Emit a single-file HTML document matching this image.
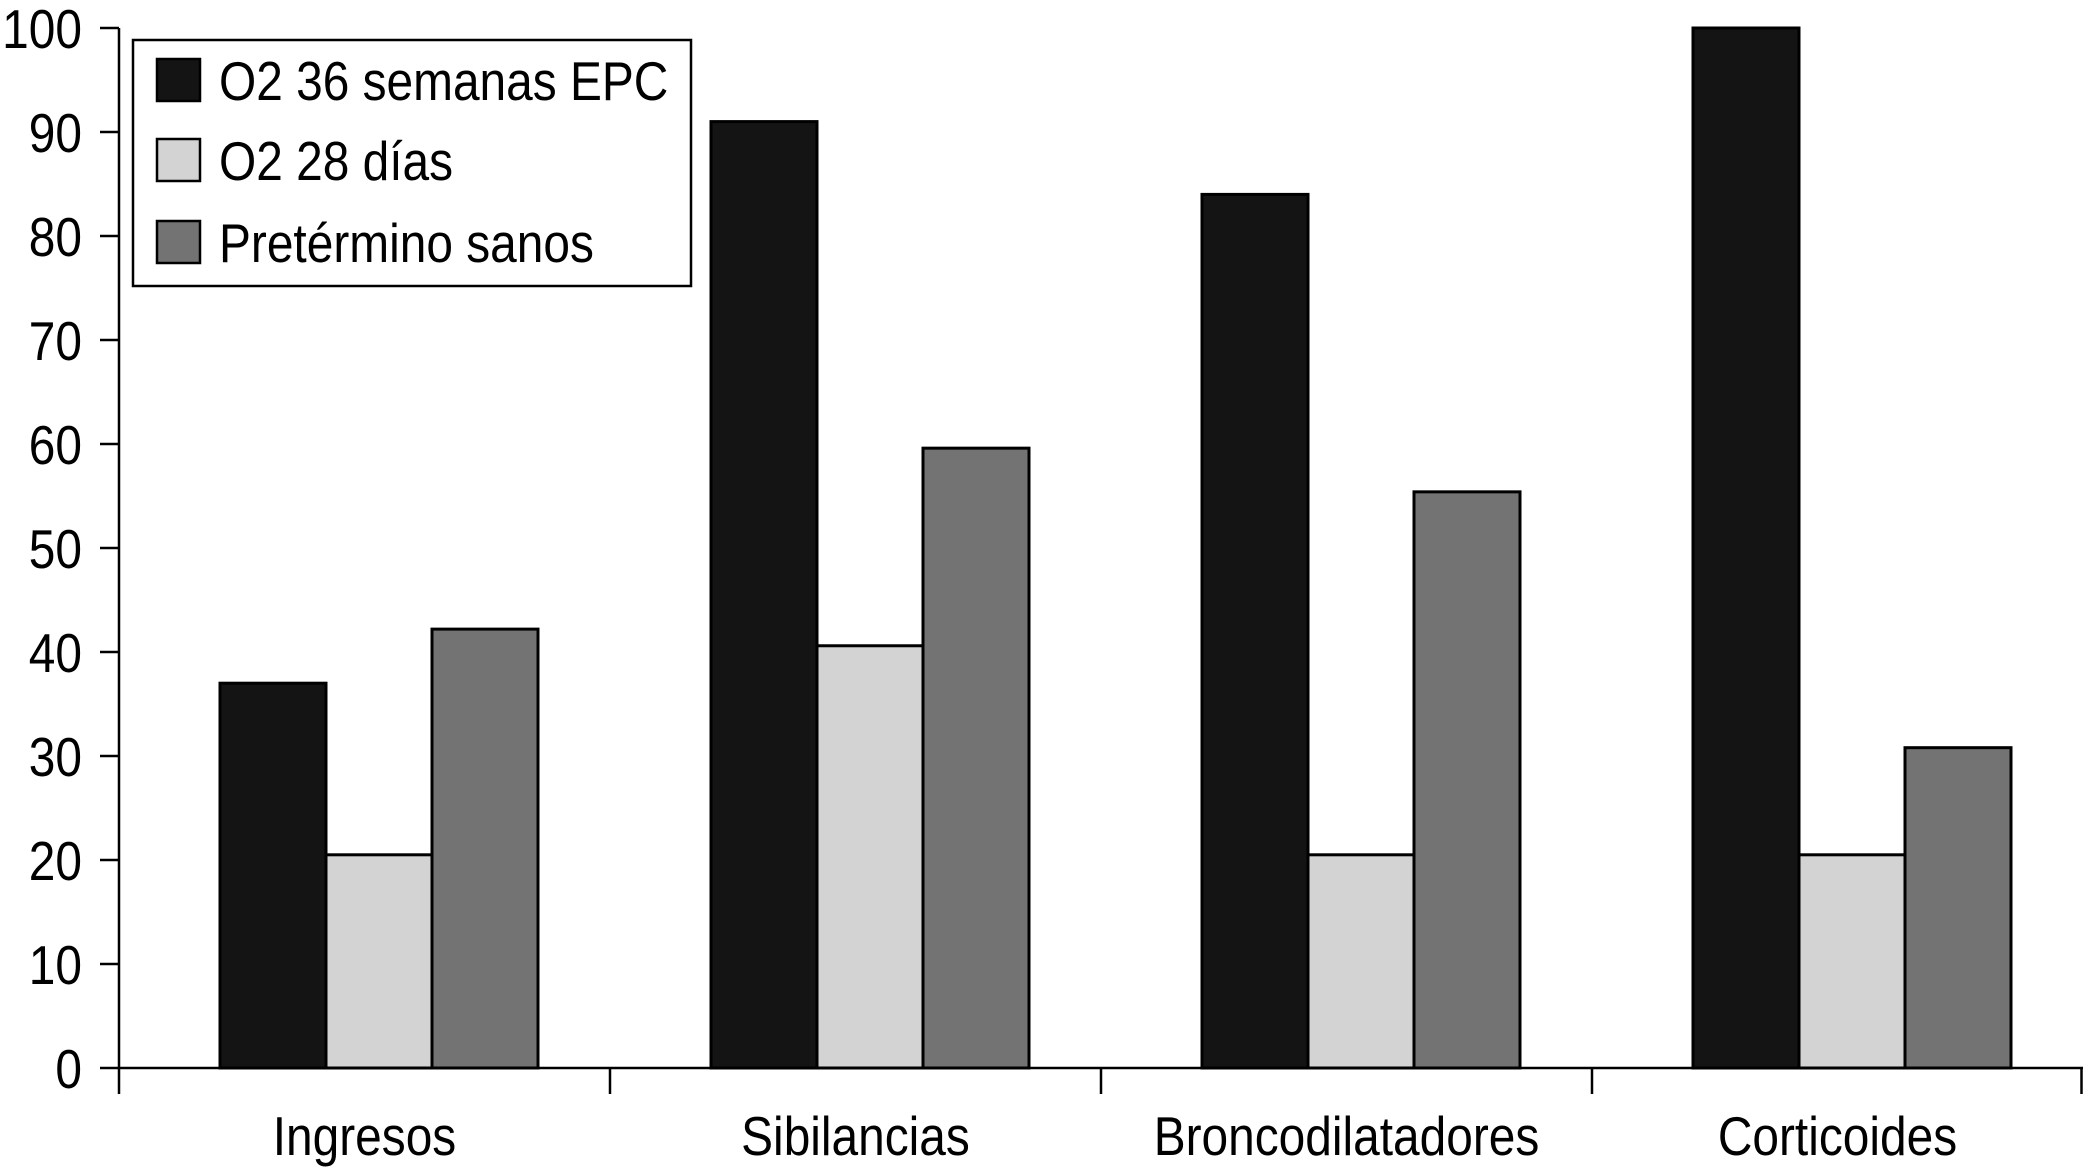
<!DOCTYPE html>
<html><head><meta charset="utf-8"><style>
body{margin:0;background:#fff;}
svg{display:block;font-family:"Liberation Sans",Arial,sans-serif;}
</style></head><body>
<svg id="chart" width="2083" height="1168" viewBox="0 0 2083 1168"></svg>
<script>
const categories=["Ingresos","Sibilancias","Broncodilatadores","Corticoides"];
const seriesNames=["O2 36 semanas EPC","O2 28 días","Pretérmino sanos"];
const seriesO2_36=[37,91,84,100];
const seriesO2_28=[20.5,40.6,20.5,20.5];
const seriesSanos=[42.2,59.6,55.4,30.8];
const yTicks=[0,10,20,30,40,50,60,70,80,90,100];
const colors=["#141414","#d3d3d3","#737373"];
const NS="http://www.w3.org/2000/svg";
const svg=document.getElementById('chart');
const x0=119,x1=2083,y0=1068,y100=28;
const yS=v=>y0-(y0-y100)*v/100;
const catW=(x1-x0)/categories.length;
const barW=106,groupOff=101;
const FS=55,SX=0.87;
function el(t,a,p){const e=document.createElementNS(NS,t);for(const k in a)e.setAttribute(k,a[k]);(p||svg).appendChild(e);return e;}
function txt(x,y,anchor,s,p){
 const e=el('text',{x:x/SX,y:y,'text-anchor':anchor,'font-size':FS,transform:'scale('+SX+',1)'},p);
 e.textContent=s;return e;
}
const ya=el('line',{x1:x0,y1:y100,x2:x0,y2:y0,stroke:'#000','stroke-width':2.5});


yTicks.forEach(v=>{
 const t=el('line',{x1:x0-19,y1:yS(v),x2:x0,y2:yS(v),stroke:'#000','stroke-width':2.5});
 
 
 const l=txt(82,yS(v)+20,'end',v);
 
 
});
const series=[seriesO2_36,seriesO2_28,seriesSanos];
series.forEach((s,si)=>{
 s.forEach((v,ci)=>{
  const bx=x0+ci*catW+groupOff+si*barW;
  const r=el('rect',{x:bx,y:yS(v),width:barW,height:y0-yS(v),fill:colors[si],stroke:'#000','stroke-width':3});
  
  
 });
});
const xa=el('line',{x1:x0,y1:y0,x2:x1,y2:y0,stroke:'#000','stroke-width':2.5});


for(let i=0;i<=categories.length;i++){
 const tx=Math.min(x0+i*catW,x1-1.5);
 const t=el('line',{x1:tx,y1:y0,x2:tx,y2:y0+26,stroke:'#000','stroke-width':2.5});
 
 
}
categories.forEach((c,i)=>{
 const l=txt(x0+(i+0.5)*catW,1155,'middle',c);
 
 
});
const lg=el('g',{});


el('rect',{x:133,y:40,width:558,height:246,fill:'#fff',stroke:'#000','stroke-width':2.5},lg);
seriesNames.forEach((n,i)=>{
 const cy=[80,160,242][i];
 const sw=el('rect',{x:157,y:cy-21,width:43,height:42,fill:colors[i],stroke:'#000','stroke-width':2.5},lg);
 
 
 const t=txt(219,cy+20,'start',n,lg);
 
 
});
</script>
</body></html>
